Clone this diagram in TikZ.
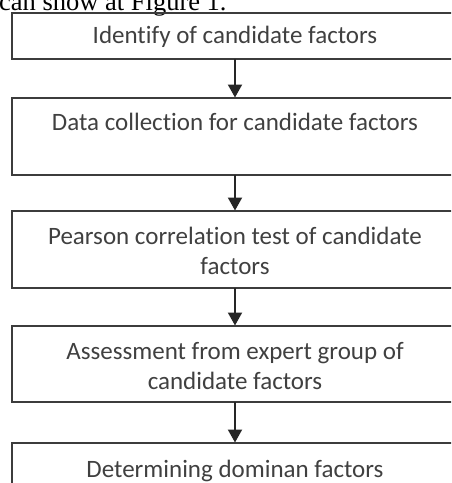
\documentclass[tikz,border=0pt]{standalone}
\usepackage{fontspec}
\setmainfont{Carlito}[Ligatures={NoCommon}]
\newfontfamily\capfont{Liberation Serif}
\usetikzlibrary{arrows.meta}
\definecolor{boxline}{HTML}{3C3C3C}
\definecolor{txtcol}{HTML}{404040}
\tikzset{
  stepbox/.style={draw=boxline, line width=1.8pt, minimum width=446pt, anchor=north west, inner sep=0pt, outer sep=0pt},
  steptext/.style={text=txtcol, align=center, inner sep=0pt, font=\fontsize{25}{30}\selectfont},
  flowarrow/.style={draw=black!85, line width=2pt, -{Triangle[length=13pt,width=14pt]}, shorten >=0.5pt},
}
\begin{document}
\begin{tikzpicture}[x=1pt, y=-1pt]
\useasboundingbox (0,0) rectangle (451,483);
\clip (0,0) rectangle (451,483);
\node[anchor=base west, inner sep=0pt, font=\capfont\fontsize{26.5}{30}\selectfont] (cap) at (-1,10) {can show at Figure 1.};
\node[stepbox, minimum height=46pt] (b1) at (12,13) {};
\node[stepbox, minimum height=77pt] (b2) at (12,98) {};
\node[stepbox, minimum height=77pt] (b3) at (12,211) {};
\node[stepbox, minimum height=76pt] (b4) at (12,326) {};
\node[stepbox, minimum height=60pt] (b5) at (12,443) {};
\node[steptext] (t1) at (235,37) {Identify of candidate factors};
\node[steptext] (t2) at (235,122) {Data collection for candidate factors};
\node[steptext] (t3) at (235,251) {Pearson correlation test of candidate\\factors};
\node[steptext] (t4) at (235,366) {Assessment from expert group of\\candidate factors};
\node[steptext] (t5) at (235,471) {Determining dominan factors};
\draw[flowarrow] (b1.south) -- (b2.north);
\draw[flowarrow] (b2.south) -- (b3.north);
\draw[flowarrow] (b3.south) -- (b4.north);
\draw[flowarrow] (b4.south) -- (b5.north);
\end{tikzpicture}
\end{document}
